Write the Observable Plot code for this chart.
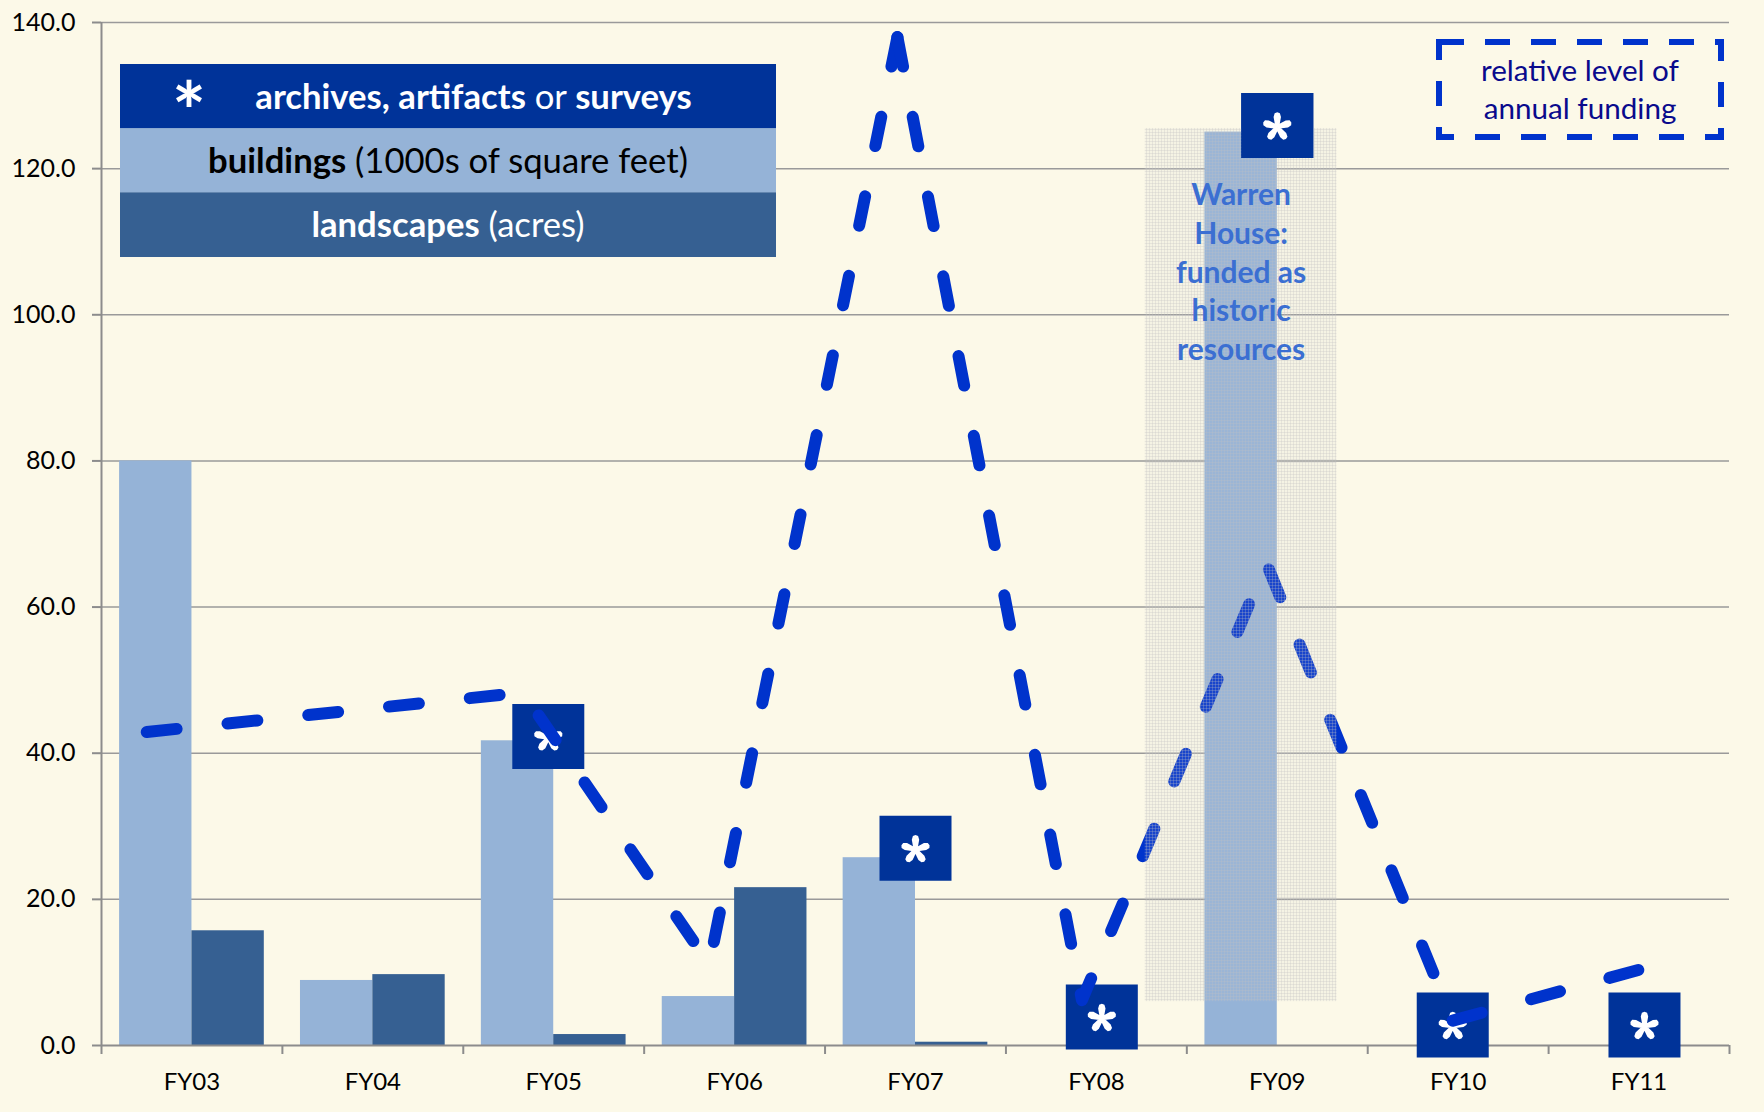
<!DOCTYPE html>
<html>
<head>
<meta charset="utf-8">
<script src="https://cdn.jsdelivr.net/npm/d3@7"></script>
<script src="https://cdn.jsdelivr.net/npm/@observablehq/plot@0.6"></script>
<style>
  html, body { margin: 0; padding: 0; background: #FCF9E8; }
  #wrap { position: relative; width: 1764px; height: 1112px; font-family: Lato, sans-serif; }
  text { white-space: pre; }
</style>
</head>
<body>
<div id="wrap"></div>
<script>
// ---- data ----
const categories = ["FY03", "FY04", "FY05", "FY06", "FY07", "FY08", "FY09", "FY10", "FY11"];
const buildings  = [80.0, 8.9, 41.7, 6.7, 25.7, null, 125.0, null, null];
const landscapes = [15.7, 9.7, 1.5, 21.6, 0.45, null, null, null, null];
const yTicks = [0, 20, 40, 60, 80, 100, 120, 140];

// relative level of annual funding (hand-drawn dashed line), position along the FY axis (0 = FY03)
const fundingPos   = [-0.25, 1.83, 2.86, 3.90, 4.92, 5.94, 6.97, 8.02];
const fundingLevel = [42.9, 48.3, 11.1, 138.0, 6.2, 66.0, 3.4, 10.5];

// "archives, artifacts or surveys" markers
const asteriskPos   = [1.97, 4.0, 5.03, 6.0, 6.97, 8.03];
const asteriskLevel = [42.3, 27.0, 3.9, 125.9, 2.8, 2.8];

// Warren House shaded band
const warrenPos   = [5.27, 6.33];
const warrenLevel = [6.0, 125.5];
const warrenLabel = "Warren\nHouse:\nfunded as\nhistoric\nresources";
const warrenLabelPos = 5.8;
const warrenLabelLevel = 106.1;

// legend texts
const legendStar = "*";
const legendArchives = ["archives, artifacts", " or ", "surveys"];
const legendBuildings = ["buildings", " (1000s of square feet)"];
const legendLandscapes = ["landscapes", " (acres)"];
const fundingLegend = ["relative level of", "annual funding"];

// ---- tables ----
const buildingRows = categories.map((c, i) => ({cat: c, pos: i, value: buildings[i]})).filter(d => d.value != null);
const landscapeRows = categories.map((c, i) => ({cat: c, pos: i, value: landscapes[i]})).filter(d => d.value != null);
const fundingRows = fundingPos.map((p, i) => ({pos: p, level: fundingLevel[i]}));
const apex = d3.maxIndex(fundingLevel);
// dashes run outward from the peak on both sides, as in the reference
const fundingLeft = fundingRows.slice(0, apex + 1).reverse();
const fundingRight = fundingRows.slice(apex);
const asteriskRows = asteriskPos.map((p, i) => ({pos: p, level: asteriskLevel[i]}));
const warrenRows = [{x1: warrenPos[0], x2: warrenPos[1], y1: warrenLevel[0], y2: warrenLevel[1]}];
const boundaries = d3.range(categories.length + 1).map(i => i - 0.5);
const onTopBoxes = asteriskRows.filter(d => d.pos > warrenPos[0] && d.pos < warrenPos[1]);

// marker shapes (pixel-sized symbols)
const boxSymbol = {
  draw(ctx) {
    ctx.moveTo(-36, -32.5); ctx.lineTo(36, -32.5); ctx.lineTo(36, 32.5); ctx.lineTo(-36, 32.5); ctx.closePath();
  }
};
function asteriskPath(ctx, cx, cy, L) {
  const arm = [[0, -1.9], [L * 0.68, -3.7], [L * 0.93, -2.6], [L, 0], [L * 0.93, 2.6], [L * 0.68, 3.7], [0, 1.9]];
  for (let k = 0; k < 5; k++) {
    const a = (-90 + k * 72) * Math.PI / 180, c = Math.cos(a), s = Math.sin(a);
    arm.forEach(([u, v], j) => {
      const px = cx + u * c - v * s, py = cy + u * s + v * c;
      if (j === 0) ctx.moveTo(px, py); else ctx.lineTo(px, py);
    });
    ctx.closePath();
  }
}
const starSymbol = { draw(ctx) { asteriskPath(ctx, 0, 1.5, 14.8); } };

const axisGrey = "#8c8c8c";
const boxFill = "#003399";
const lineBlue = "#0033CC";

const boxMarks = (rows) => [
  Plot.dot(rows, {x: "pos", y: "level", symbol: boxSymbol, fill: boxFill, stroke: null, r: 10}),
  Plot.dot(rows, {x: "pos", y: "level", symbol: starSymbol, fill: "white", stroke: null, r: 10})
];
const fundingLine = (rows) => Plot.line(rows, {x: "pos", y: "level", stroke: lineBlue, strokeWidth: 12,
  strokeDasharray: "30,51.2", strokeLinecap: "round", strokeLinejoin: "round"});

const chart = Plot.plot({
  width: 1764,
  height: 1112,
  marginLeft: 101,
  marginRight: 35,
  marginTop: 22,
  marginBottom: 67,
  style: {background: "#FCF9E8", fontFamily: "Lato, sans-serif", overflow: "visible"},
  x: {type: "linear", domain: [-0.5, categories.length - 0.5]},
  y: {domain: [0, 140]},
  marks: [
    Plot.gridY(yTicks.filter(d => d > 0), {stroke: "#9a9a9a", strokeOpacity: 1, strokeWidth: 1.5}),
    Plot.rect(buildingRows, {x1: d => d.pos - 0.4, x2: d => d.pos, y1: 0, y2: "value", fill: "#95B3D7"}),
    Plot.rect(landscapeRows, {x1: d => d.pos, x2: d => d.pos + 0.4, y1: 0, y2: "value", fill: "#366092"}),
    Plot.ruleY([0], {stroke: axisGrey, strokeWidth: 2}),
    Plot.ruleX([-0.5], {stroke: axisGrey, strokeWidth: 2}),
    Plot.axisY({ticks: yTicks, tickFormat: d => d.toFixed(1), tickSize: 9, tickPadding: 17, fontSize: 25,
      stroke: axisGrey, strokeWidth: 2, fill: "black", label: null}),
    Plot.axisX({ticks: boundaries, tickSize: 9, tickFormat: () => "", stroke: axisGrey, strokeWidth: 2, label: null}),
    Plot.axisX({ticks: d3.range(categories.length), tickSize: 0, tickPadding: 27, tickFormat: i => categories[i],
      fontSize: 24, fill: "black", label: null}),
    ...boxMarks(asteriskRows),
    fundingLine(fundingLeft),
    fundingLine(fundingRight),
    Plot.rect(warrenRows, {x1: "x1", x2: "x2", y1: "y1", y2: "y2", fill: "url(#warrenTex)"}),
    ...boxMarks(onTopBoxes),
    Plot.text([warrenLabel], {x: () => warrenLabelPos, y: () => warrenLabelLevel, text: d => d,
      fill: "#3B6FD2", fontSize: 30, fontWeight: "bold", lineHeight: 1.287, textAnchor: "middle"})
  ]
});

d3.select(chart).insert("defs", ":first-child").html(
  `<pattern id="warrenTex" width="3" height="3" patternUnits="userSpaceOnUse">
     <rect width="3" height="3" fill="#c6c6c9" fill-opacity="0.12"/>
     <rect width="3" height="1" fill="#bdbdc0" fill-opacity="0.28"/>
     <rect width="1" height="3" fill="#bdbdc0" fill-opacity="0.28"/>
   </pattern>`);

const wrap = document.getElementById("wrap");
wrap.appendChild(chart);

// ---- legend (top-left), drawn into the same SVG ----
const svg = d3.select(chart);
const lg = svg.append("g").attr("font-family", "Lato, sans-serif");
const rowColors = ["#003399", "#95B3D7", "#366092"];
const rowTextColors = ["#ffffff", "#000000", "#ffffff"];
const rowTop = [64, 128.2, 192.4];
rowTop.forEach((t, i) => lg.append("rect").attr("x", 120).attr("y", t).attr("width", 656).attr("height", 64.6).attr("fill", rowColors[i]));

function richText(g, x, yc, parts, color) {
  const t = g.append("text").attr("x", x).attr("y", yc).attr("dy", "0.36em").attr("text-anchor", "middle").attr("fill", color);
  parts.forEach(p => t.append("tspan").attr("font-weight", p.bold ? 700 : 400).text(p.s));
  return t;
}
const rowTexts = [
  richText(lg, 473.5, 96.5, [{s: legendArchives[0], bold: true}, {s: legendArchives[1]}, {s: legendArchives[2], bold: true}], rowTextColors[0]),
  richText(lg, 448, 160.5, [{s: legendBuildings[0], bold: true}, {s: legendBuildings[1]}], rowTextColors[1]),
  richText(lg, 448, 224.7, [{s: legendLandscapes[0], bold: true}, {s: legendLandscapes[1]}], rowTextColors[2])
];
// fit the legend font so the longest row matches the reference width
rowTexts.forEach(t => t.attr("font-size", 30));
const w2 = rowTexts[1].node().getComputedTextLength();
const legendFont = 30 * 480 / w2;
rowTexts.forEach(t => t.attr("font-size", legendFont));

// legend star
lg.append("text").attr("x", 189).attr("y", 97).attr("text-anchor", "middle")
  .attr("fill", "white").attr("font-weight", 700).attr("font-size", 80)
  .attr("dy", "0.55em").text(legendStar);

// ---- funding legend (top-right, dashed box) ----
const fb = svg.append("g").attr("font-family", "Lato, sans-serif");
fb.append("rect").attr("x", 1439).attr("y", 42).attr("width", 282).attr("height", 95)
  .attr("fill", "none").attr("stroke", lineBlue).attr("stroke-width", 6).attr("stroke-dasharray", "25 21");
const ft = fb.selectAll("text.f").data(fundingLegend).join("text")
  .attr("class", "f")
  .attr("x", 1580).attr("y", (d, i) => 70.5 + i * 38).attr("dy", "0.36em")
  .attr("text-anchor", "middle").attr("fill", "#0A0A8C")
  .attr("font-size", 30)
  .text(d => d);
const wf = ft.nodes()[0].getComputedTextLength();
ft.attr("font-size", 30 * 198 / wf);
</script>
</body>
</html>
